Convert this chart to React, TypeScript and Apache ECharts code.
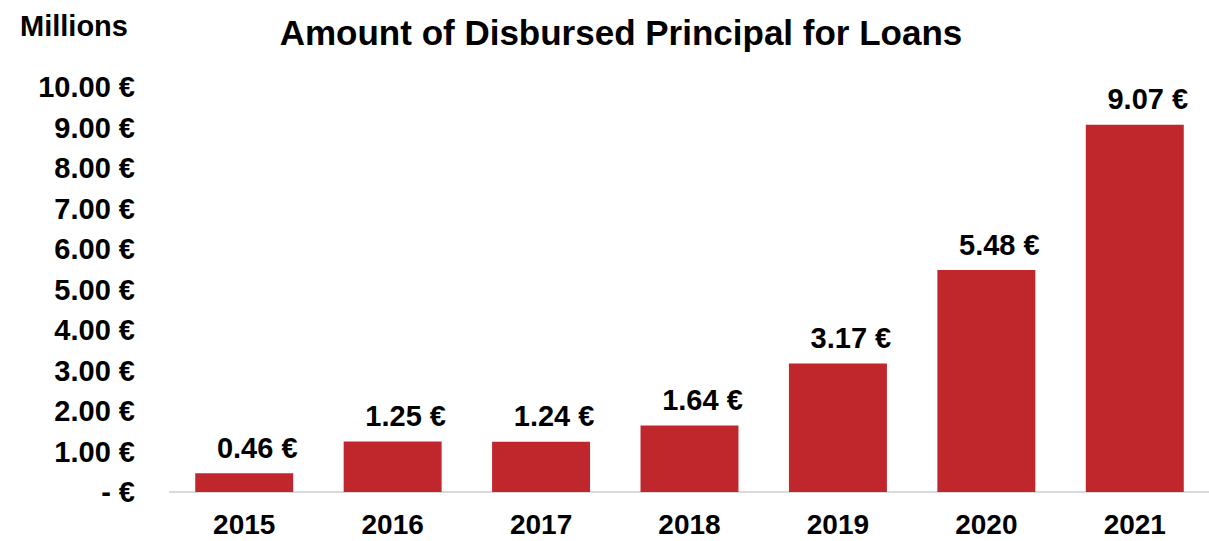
import React, { useEffect, useRef } from "react";
import * as echarts from "echarts";

const categories = ["2015", "2016", "2017", "2018", "2019", "2020", "2021"];
const values = [0.46, 1.25, 1.24, 1.64, 3.17, 5.48, 9.07];
const titleText = "Amount of Disbursed Principal for Loans";
const unitText = "Millions";

const FONT = "'Liberation Sans', Arial, sans-serif";

export default function App() {
  const ref = useRef<HTMLDivElement>(null);
  useEffect(() => {
    const chart = echarts.init(ref.current!, null, { renderer: "svg" });
    chart.setOption({
      animation: false,
      backgroundColor: "#ffffff",
      textStyle: { fontFamily: FONT },
      title: {
        text: titleText,
        left: 616,
        textAlign: "center",
        top: 10,
        textStyle: { fontFamily: FONT, fontSize: 35, fontWeight: "bold", color: "#000" },
      },
      graphic: [
        {
          type: "text",
          left: 20,
          top: 11,
          style: { text: unitText, fontFamily: FONT, fontSize: 29, fontWeight: "bold", fill: "#000" },
        },
      ],
      grid: { left: 170, top: 87, width: 1041, bottom: 49, containLabel: false },
      xAxis: {
        type: "category",
        data: categories,
        axisLine: { show: true, lineStyle: { color: "#d9d9d9", width: 2 } },
        axisTick: { show: false },
        axisLabel: { fontFamily: FONT, fontSize: 28, fontWeight: "bold", color: "#000", margin: 18 },
      },
      yAxis: {
        type: "value",
        min: 0,
        max: 10,
        interval: 1,
        axisLine: { show: false },
        axisTick: { show: false },
        splitLine: { show: false },
        axisLabel: {
          fontFamily: FONT,
          fontSize: 29,
          fontWeight: "bold",
          color: "#000",
          margin: 35,
          formatter: (v: number) => (v === 0 ? "- €" : v.toFixed(2) + " €"),
        },
      },
      series: [
        {
          type: "bar",
          data: values,
          barWidth: "66%",
          itemStyle: { color: "#C0272D" },
          label: {
            show: true,
            position: "top",
            distance: 11,
            offset: [13, 0],
            fontFamily: FONT,
            fontSize: 29,
            fontWeight: "bold",
            color: "#000",
            formatter: (p: any) => p.value.toFixed(2) + " €",
          },
        },
      ],
    });
    return () => chart.dispose();
  }, []);
  return <div ref={ref} style={{ width: 1209, height: 541, position: "absolute", left: 0, top: 0 }} />;
}
